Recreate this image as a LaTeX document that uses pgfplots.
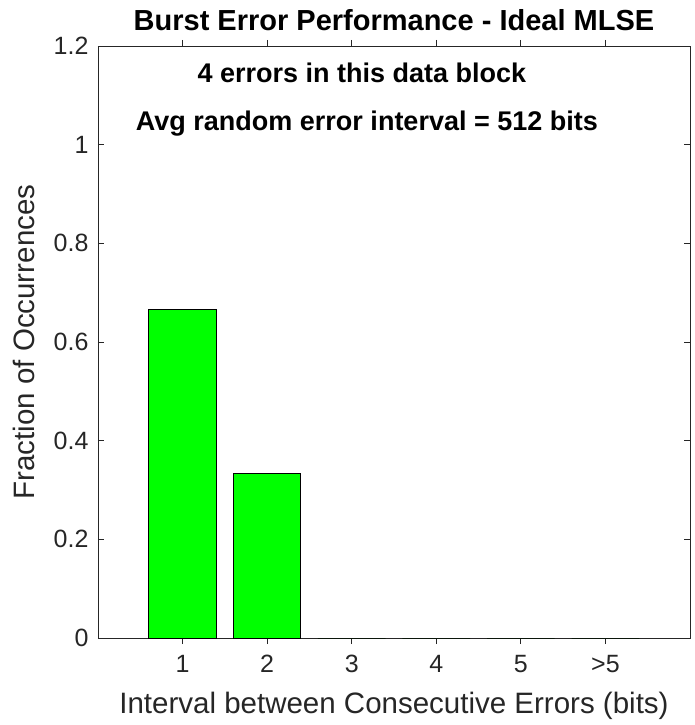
\documentclass[border=0pt]{standalone}
\usepackage{fontspec}
\setmainfont{Liberation Sans}
\usepackage{pgfplots}
\pgfplotsset{compat=1.18}
\definecolor{mgray}{gray}{0.15}
\definecolor{mgreen}{RGB}{0,255,0}
\begin{document}
\begin{tikzpicture}
\begin{axis}[
    scale only axis,
    width=592pt, height=592pt,
    xmin=0, xmax=7, ymin=0, ymax=1.2,
    xtick={1,2,3,4,5,6},
    xticklabels={1,2,3,4,5,>5},
    ytick={0,0.2,0.4,0.6,0.8,1,1.2},
    yticklabels={0,0.2,0.4,0.6,0.8,1,1.2},
    tick align=inside,
    major tick length=6pt,
    axis line style={mgray, line width=0.8pt},
    tick style={mgray, line width=0.8pt},
    ticklabel style={font=\fontsize{25}{30}\selectfont, text=mgray},
    xticklabel style={yshift=-8pt},
    yticklabel style={xshift=-6pt},
    /pgf/number format/assume math mode=true,
    xlabel={Interval between Consecutive Errors (bits)},
    ylabel={Fraction of Occurrences},
    label style={font=\fontsize{29.5}{34}\selectfont, text=mgray},
    xlabel style={yshift=-12pt},
    ylabel style={yshift=12pt},
    title={Burst Error Performance - Ideal MLSE},
    title style={font=\fontsize{29}{34}\selectfont\bfseries, yshift=6pt},
    ybar, bar width=0.8,
]
\addplot[fill=mgreen, draw=black, line width=1pt] coordinates {
    (1,0.6667) (2,0.3333) (3,0) (4,0) (5,0) (6,0)};
\node[font=\fontsize{27}{32}\selectfont\bfseries] at (axis cs:3.12,1.145) {4 errors in this data block};
\node[font=\fontsize{27}{32}\selectfont\bfseries] at (axis cs:3.18,1.042) {Avg random error interval = 512 bits};
\end{axis}
\path[use as bounding box] ([shift={(-98pt,-87pt)}]current axis.south west) rectangle ([shift={(596pt,638pt)}]current axis.south west);
\end{tikzpicture}
\end{document}
